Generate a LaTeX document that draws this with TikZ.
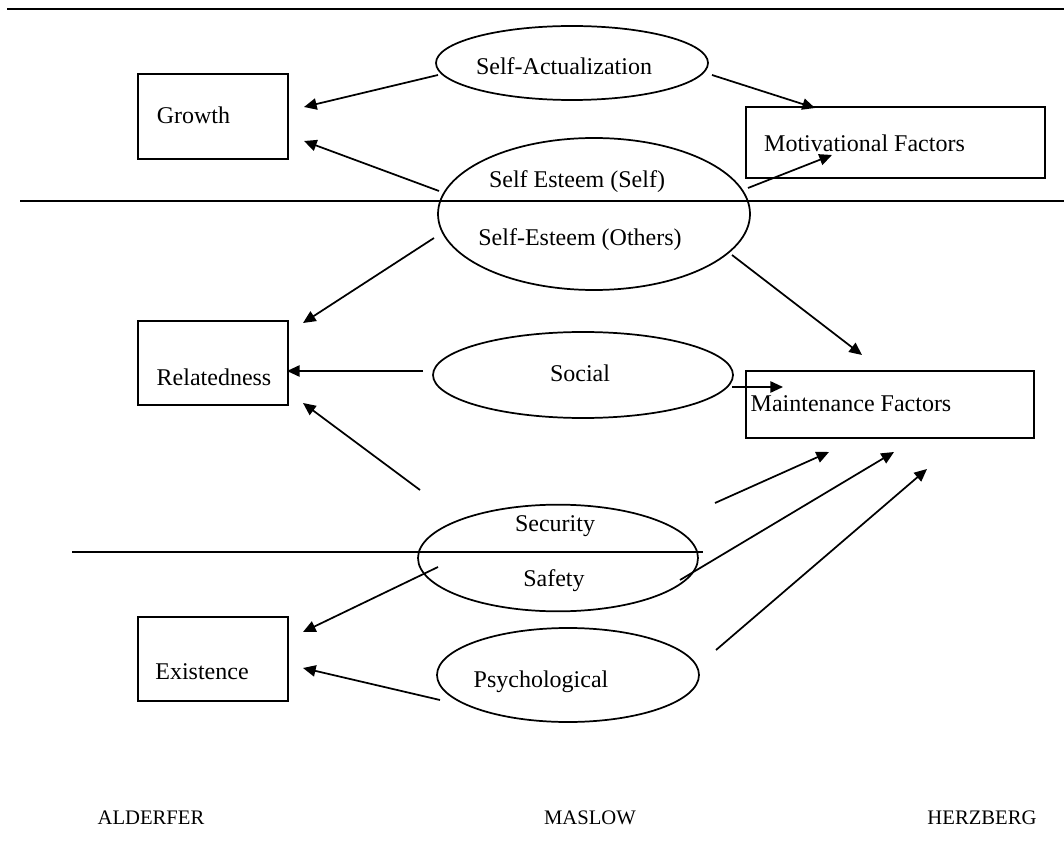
\documentclass[tikz,border=0pt]{standalone}
\usepackage{fontspec}
\setmainfont{Liberation Serif}
\usetikzlibrary{shapes.geometric,arrows.meta}
\begin{document}
\begin{tikzpicture}[x=0.75pt,y=-0.75pt,
  every node/.style={font=\fontsize{18}{21}\selectfont},
  boxnode/.style={draw,line width=1.3pt,inner sep=0pt},
  ellnode/.style={draw,ellipse,line width=1.3pt,inner sep=0pt},
  txt/.style={inner sep=0pt},
  bottomtxt/.style={inner sep=0pt,font=\fontsize{15.5}{18}\selectfont},
  rule/.style={line width=1.3pt},
  conn/.style={line width=1.3pt,-{Triangle[length=9.5pt,width=8.5pt]}}]
\useasboundingbox (0,0) rectangle (1064,859);
\fill[white] (0,0) rectangle (1064,859);
% horizontal rules
\coordinate (r1a) at (7,9);    \coordinate (r1b) at (1064,9);
\coordinate (r2a) at (20,201); \coordinate (r2b) at (1064,201);
\coordinate (r3a) at (72,552); \coordinate (r3b) at (703,552);
\draw[rule] (r1a) -- (r1b);
\draw[rule] (r2a) -- (r2b);
\draw[rule] (r3a) -- (r3b);
% boxes
\node[boxnode,minimum width=112.5pt,minimum height=63.75pt] (growth) at (213,116.5) {};
\node[boxnode,minimum width=224.25pt,minimum height=53.25pt] (motiv) at (895.5,142.5) {};
\node[boxnode,minimum width=112.5pt,minimum height=63pt] (related) at (213,363) {};
\node[boxnode,minimum width=216pt,minimum height=50.25pt] (maint) at (890,404.5) {};
\node[boxnode,minimum width=112.5pt,minimum height=63pt] (exist) at (213,659) {};
\node[txt] (growthlbl) at (193.5,115) {Growth};
\node[txt] (motivlbl) at (864.5,143) {Motivational Factors};
\node[txt] (relatedlbl) at (214,377) {Relatedness};
\node[txt] (maintlbl) at (851,404) {Maintenance Factors};
\node[txt] (existlbl) at (202,672) {Existence};
% ellipses
\node[ellnode,minimum width=204pt,minimum height=55.5pt] (sa) at (572,63) {};
\node[ellnode,minimum width=234pt,minimum height=114pt] (se) at (594,214) {};
\node[ellnode,minimum width=225pt,minimum height=64.5pt] (social) at (583,375) {};
\node[ellnode,minimum width=210pt,minimum height=80pt] (ss) at (558,558) {};
\node[ellnode,minimum width=196.5pt,minimum height=70.5pt] (psych) at (568,675) {};
\node[txt] (salbl) at (564,66) {Self-Actualization};
\node[txt] (seselflbl) at (577,182) {Self Esteem (Self)};
\node[txt] (seothlbl) at (580,240) {Self-Esteem (Others)};
\node[txt] (sociallbl) at (580,373) {Social};
\node[txt] (seclbl) at (555,526) {Security};
\node[txt] (saflbl) at (554,581) {Safety};
\node[txt] (psychlbl) at (541,682) {Psychological};
% bottom labels
\node[bottomtxt] (alderfer) at (151,818) {ALDERFER};
\node[bottomtxt] (maslow) at (590,818) {MASLOW};
\node[bottomtxt] (herzberg) at (982,818) {HERZBERG};
% connector end points
\coordinate (a1s) at (438,75);  \coordinate (a1e) at (304,107);
\coordinate (a2s) at (712,75);  \coordinate (a2e) at (815,108);
\coordinate (a3s) at (439,191); \coordinate (a3e) at (304,141);
\coordinate (a4s) at (748,188); \coordinate (a4e) at (832,155);
\coordinate (a5s) at (434,238); \coordinate (a5e) at (303,323);
\coordinate (a6s) at (732,255); \coordinate (a6e) at (862,355);
\coordinate (a7s) at (423,371); \coordinate (a7e) at (287,371);
\coordinate (a8s) at (732,387); \coordinate (a8e) at (783,387);
\coordinate (a9s) at (420,490); \coordinate (a9e) at (303,403);
\coordinate (a10s) at (715,503); \coordinate (a10e) at (829,452);
\coordinate (a11s) at (680,580); \coordinate (a11e) at (894,452);
\coordinate (a12s) at (438,567); \coordinate (a12e) at (303,632);
\coordinate (a13s) at (716,650); \coordinate (a13e) at (927,469);
\coordinate (a14s) at (440,700); \coordinate (a14e) at (303,668);
\foreach \i in {1,...,14} \draw[conn] (a\i s) -- (a\i e);
\end{tikzpicture}
\end{document}
